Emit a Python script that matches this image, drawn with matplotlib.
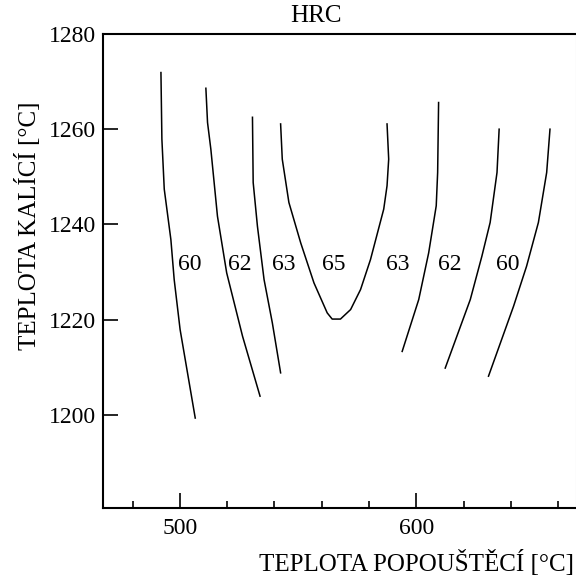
import matplotlib
matplotlib.use('Agg')
import matplotlib.pyplot as plt
from matplotlib.ticker import MultipleLocator

plt.rcParams['font.family'] = ['Liberation Serif', 'DejaVu Serif']

# izolinie tvrdosti HRC (teplota popouštěcí, teplota kalící)
c60_l_x = [492.0, 492.4, 493.4, 496.2, 497.6, 500.1, 506.5]
c60_l_y = [1271.9, 1257.9, 1247.4, 1236.8, 1228.4, 1217.9, 1199.3]
c62_l_x = [511.0, 511.7, 513.1, 515.9, 519.8, 526.5, 533.9]
c62_l_y = [1268.6, 1261.4, 1255.8, 1241.7, 1229.8, 1216.5, 1203.9]
c63_l_x = [530.7, 531.0, 532.8, 535.6, 539.1, 542.6]
c63_l_y = [1262.5, 1248.8, 1239.6, 1228.4, 1219.3, 1208.8]
c65_x = [542.6, 543.3, 546.1, 551.1, 556.7, 562.3, 564.4, 567.9, 572.2, 576.4,
         580.6, 586.2, 587.6, 588.3, 587.6]
c65_y = [1261.1, 1253.7, 1244.6, 1236.1, 1227.7, 1221.4, 1220.1, 1220.1, 1222.1,
         1226.3, 1232.6, 1243.2, 1248.1, 1253.7, 1261.1]
c63_r_x = [609.4, 609.0, 608.4, 605.2, 601.0, 594.0]
c63_r_y = [1265.6, 1250.9, 1243.9, 1234.0, 1224.2, 1213.3]
c62_r_x = [635.0, 634.1, 631.2, 627.7, 622.8, 612.2]
c62_r_y = [1260.0, 1250.9, 1240.4, 1233.3, 1224.2, 1209.8]
c60_r_x = [656.5, 655.1, 651.6, 646.6, 641.1, 630.5]
c60_r_y = [1260.0, 1250.9, 1240.4, 1231.2, 1222.8, 1208.1]

labels = ['60', '62', '63', '65', '63', '62', '60']
label_x = [504.2, 525.3, 543.9, 565.0, 592.0, 614.3, 638.8]
label_y = 1231.6

fig = plt.figure(figsize=(5.76, 5.81), dpi=100)
ax = fig.add_axes([103/576, 1 - 508/581, 1 - 103/576, (508 - 34)/581])

curves = [(c60_l_x, c60_l_y), (c62_l_x, c62_l_y), (c63_l_x, c63_l_y), (c65_x, c65_y),
          (c63_r_x, c63_r_y), (c62_r_x, c62_r_y), (c60_r_x, c60_r_y)]
for cx, cy in curves:
    ax.plot(cx, cy, color='black', lw=1.1)

for t, lx in zip(labels, label_x):
    ax.text(lx, label_y, t, ha='center', va='center', fontsize=17)

ax.set_xlim(467.5, 667.5)
ax.set_ylim(1180.4, 1280)
ax.xaxis.set_major_locator(MultipleLocator(100))
ax.xaxis.set_minor_locator(MultipleLocator(20))
ax.set_yticks([1200, 1220, 1240, 1260, 1280])
ax.tick_params(which='major', direction='in', length=11, width=1.2, labelsize=17)
ax.tick_params(which='minor', direction='in', length=5, width=1.2)
ax.tick_params(axis='x', pad=7)
ax.tick_params(axis='y', pad=5)
for s in ['left', 'bottom', 'top']:
    ax.spines[s].set_linewidth(1.5)
ax.spines['right'].set_color('#d0d0d0')

fig.text(316/576, 1 - 16/581, 'HRC', ha='center', va='center', fontsize=18)
fig.text(574/576, 1 - 563/581, 'TEPLOTA POPOUŠTĚCÍ [°C]', ha='right', va='center', fontsize=18)
fig.text(28/576, 1 - 101/581, 'TEPLOTA KALÍCÍ [°C]', ha='center', va='top',
         rotation=90, fontsize=18)

fig.savefig('out.png', dpi=100)
